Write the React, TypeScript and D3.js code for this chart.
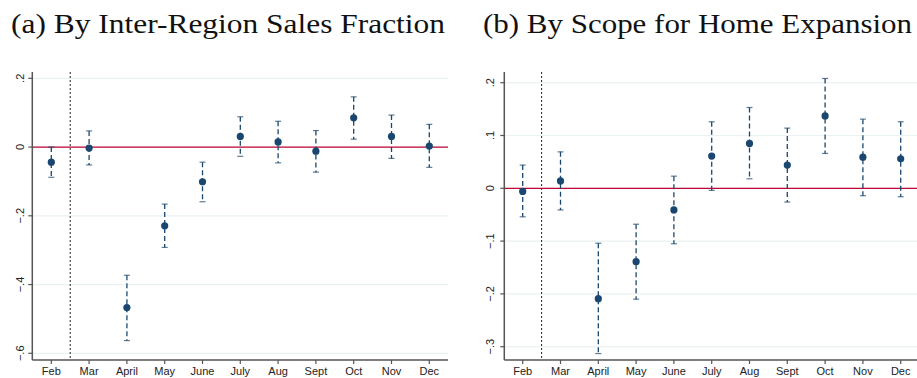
import React from "react";
import * as d3 from "d3";

const months = ["Feb", "Mar", "April", "May", "June", "July", "Aug", "Sept", "Oct", "Nov", "Dec"];

const aEst = [-0.044, -0.003, -0.467, -0.229, -0.101, 0.031, 0.015, -0.012, 0.085, 0.031, 0.003];
const aLo = [-0.088, -0.052, -0.563, -0.292, -0.159, -0.027, -0.046, -0.073, 0.023, -0.033, -0.059];
const aHi = [0.0, 0.047, -0.373, -0.166, -0.044, 0.088, 0.075, 0.048, 0.146, 0.093, 0.066];
const aTicks = [0.2, 0, -0.2, -0.4, -0.6];

const bEst = [-0.006, 0.014, -0.209, -0.139, -0.041, 0.061, 0.085, 0.044, 0.137, 0.059, 0.056];
const bLo = [-0.054, -0.041, -0.313, -0.21, -0.105, -0.004, 0.018, -0.026, 0.066, -0.014, -0.016];
const bHi = [0.044, 0.069, -0.104, -0.068, 0.023, 0.126, 0.153, 0.114, 0.208, 0.131, 0.126];
const bTicks = [0.2, 0.1, 0, -0.1, -0.2, -0.3];

const titleA = "(a) By Inter-Region Sales Fraction";
const titleB = "(b) By Scope for Home Expansion";

const fmt = (v: number) => {
  if (v === 0) return "0";
  const s = d3.format(".1f")(v);
  return s.replace("0.", ".");
};

type PanelProps = {
  x0: number;
  x1: number;
  yTopVal: number;
  yTopPx: number;
  yBotVal: number;
  yBotPx: number;
  firstCat: number;
  est: number[];
  lo: number[];
  hi: number[];
  ticks: number[];
  title: string;
  titleX: number;
  titleW: number;
  labelX: number;
};

function Panel(p: PanelProps) {
  const axisY = 360;
  const axisTop = 72;
  const y = d3.scaleLinear().domain([p.yBotVal, p.yTopVal]).range([p.yBotPx, p.yTopPx]);
  const step = 37.8;
  const x = d3
    .scalePoint<string>()
    .domain(months)
    .range([p.firstCat, p.firstCat + step * (months.length - 1)]);
  const navy = "#1a476f";
  const dividerX = ((x("Feb") as number) + (x("Mar") as number)) / 2;
  return (
    <g>
      <text
        x={p.titleX}
        y={33}
        fontFamily="'Liberation Serif', 'DejaVu Serif', serif"
        fontSize={27}
        textLength={p.titleW}
        lengthAdjust="spacingAndGlyphs"
        fill="#111"
      >
        {p.title}
      </text>
      {p.ticks.map((t) => (
        <line key={"g" + t} x1={p.x0} x2={p.x1} y1={y(t)} y2={y(t)} stroke="#eaf2f3" strokeWidth={1.2} />
      ))}
      <line x1={p.x0} x2={p.x1} y1={y(0)} y2={y(0)} stroke="#c10534" strokeWidth={1.2} />
      <line x1={dividerX} x2={dividerX} y1={axisTop} y2={axisY} stroke="#222" strokeWidth={1} strokeDasharray="2,2" />
      {months.map((m, i) => (
        <g key={m}>
          <line
            x1={x(m)}
            x2={x(m)}
            y1={y(p.hi[i])}
            y2={y(p.lo[i])}
            stroke={navy}
            strokeWidth={1.3}
            strokeDasharray="5,3"
          />
          <line x1={(x(m) as number) - 3} x2={(x(m) as number) + 3} y1={y(p.hi[i])} y2={y(p.hi[i])} stroke={navy} strokeWidth={1.2} opacity={0.7} />
          <line x1={(x(m) as number) - 3} x2={(x(m) as number) + 3} y1={y(p.lo[i])} y2={y(p.lo[i])} stroke={navy} strokeWidth={1.2} opacity={0.7} />
          <circle cx={x(m)} cy={y(p.est[i])} r={3.6} fill={navy} />
        </g>
      ))}
      <line x1={p.x0} x2={p.x0} y1={axisTop} y2={axisY} stroke="#555" strokeWidth={1.5} />
      <line x1={p.x0} x2={p.x1} y1={axisY} y2={axisY} stroke="#555" strokeWidth={1.5} />
      {p.ticks.map((t) => (
        <g key={"t" + t}>
          <line x1={p.x0 - 4} x2={p.x0} y1={y(t)} y2={y(t)} stroke="#555" strokeWidth={1.2} />
          <text
            transform={`translate(${p.labelX},${y(t)}) rotate(-90)`}
            textAnchor="middle"
            fontFamily="'Liberation Sans', Arial, sans-serif"
            fontSize={11}
            fill="#222"
          >
            {fmt(t)}
          </text>
        </g>
      ))}
      {months.map((m) => (
        <g key={"x" + m}>
          <line x1={x(m)} x2={x(m)} y1={axisY} y2={axisY + 4} stroke="#555" strokeWidth={1.2} />
          <text
            x={x(m)}
            y={375}
            textAnchor="middle"
            fontFamily="'Liberation Sans', Arial, sans-serif"
            fontSize={11}
            fill="#222"
          >
            {m}
          </text>
        </g>
      ))}
    </g>
  );
}

export default function App() {
  return (
    <svg width={917} height={378} style={{ position: "absolute", left: 0, top: 0, background: "#fff" }}>
      <rect width={917} height={378} fill="#fff" />
      <Panel
        x0={32.3}
        x1={448}
        yTopVal={0.2}
        yTopPx={78.3}
        yBotVal={-0.6}
        yBotPx={353.3}
        firstCat={51.3}
        est={aEst}
        lo={aLo}
        hi={aHi}
        ticks={aTicks}
        title={titleA}
        titleX={11}
        titleW={434}
        labelX={24}
      />
      <Panel
        x0={504.3}
        x1={917}
        yTopVal={0.2}
        yTopPx={82.7}
        yBotVal={-0.3}
        yBotPx={346.7}
        firstCat={522.7}
        est={bEst}
        lo={bLo}
        hi={bHi}
        ticks={bTicks}
        title={titleB}
        titleX={483}
        titleW={429}
        labelX={494}
      />
    </svg>
  );
}
